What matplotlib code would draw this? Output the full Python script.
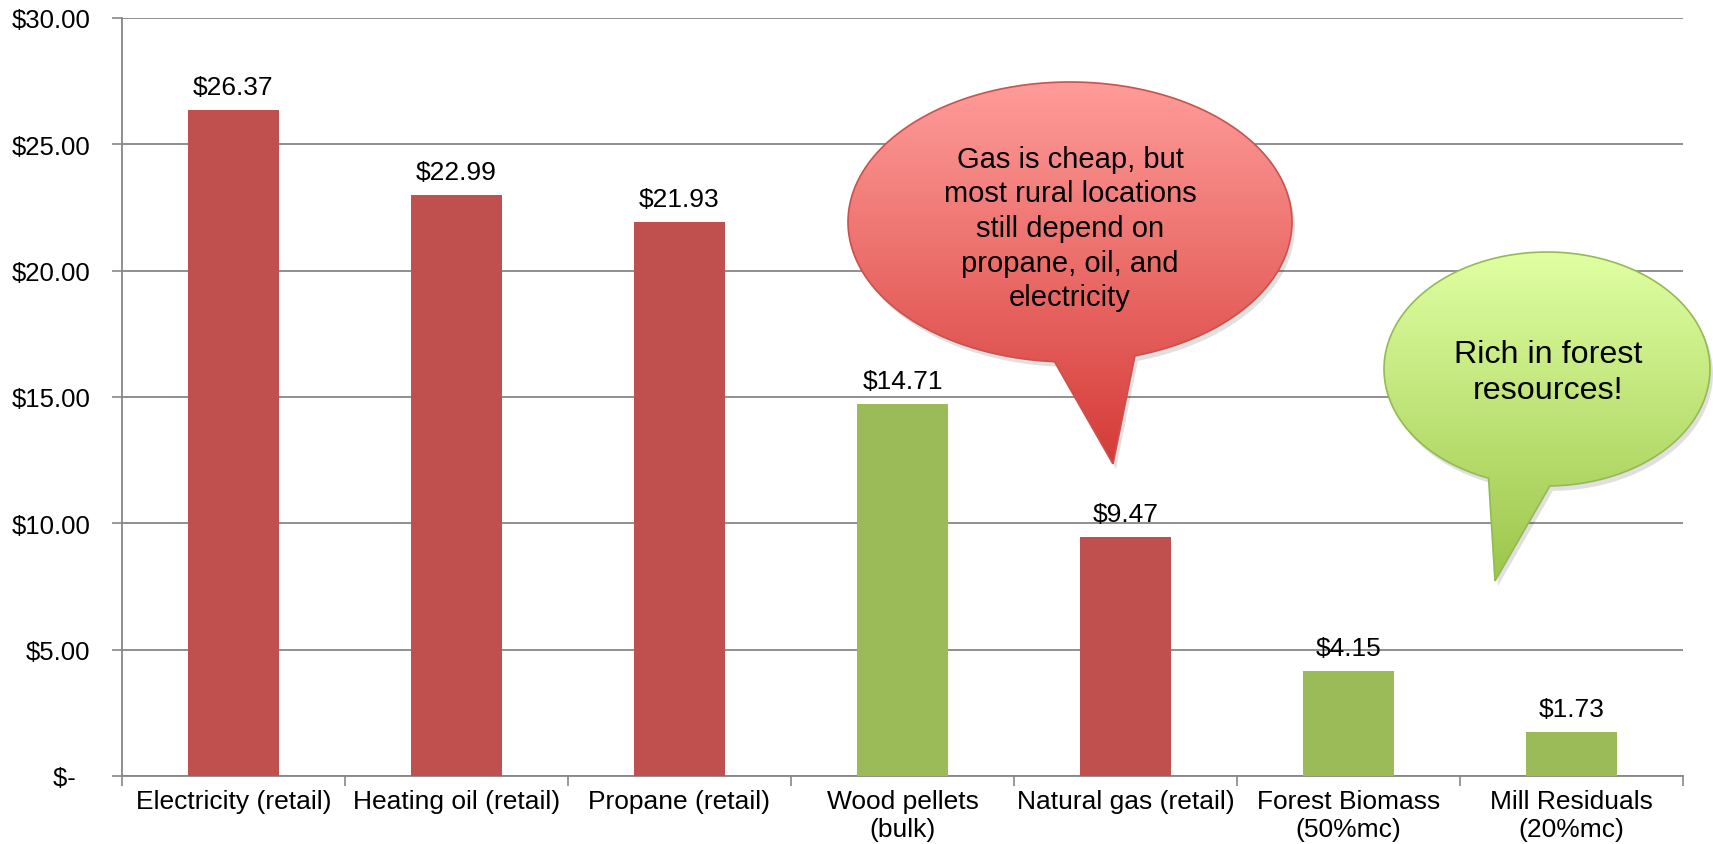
import numpy as np
import matplotlib
matplotlib.use('Agg')
import matplotlib.pyplot as plt
from matplotlib.path import Path
from matplotlib.patches import PathPatch
from matplotlib.colors import LinearSegmentedColormap

plt.rcParams['font.family'] = ['Liberation Sans', 'DejaVu Sans']

# data
categories = ['Electricity (retail)', 'Heating oil (retail)', 'Propane (retail)',
              'Wood pellets\n(bulk)', 'Natural gas (retail)', 'Forest Biomass\n(50%mc)',
              'Mill Residuals\n(20%mc)']
costs = [26.37, 22.99, 21.93, 14.71, 9.47, 4.15, 1.73]
is_biomass = [False, False, False, True, False, True, True]
y_ticks = [0, 5, 10, 15, 20, 25, 30]

RED = '#C0504D'
GREEN = '#9BBB59'
GRID = '#878787'

W, H = 1713, 845
fig = plt.figure(figsize=(W / 100, H / 100), dpi=100)
ax = fig.add_axes([122 / W, 1 - 777 / H, (1683 - 122) / W, (777 - 19) / H])

x = np.arange(len(costs))
colors = [GREEN if b else RED for b in is_biomass]
bars = ax.bar(x, costs, width=0.405, color=colors, zorder=3)
ax.bar_label(bars, labels=['$%.2f' % v for v in costs], padding=8, fontsize=19)

ax.set_xlim(-0.5, len(costs) - 0.5)
ax.set_ylim(0, 30)
ax.set_yticks(y_ticks)
ax.set_yticklabels(['$-  ' if v == 0 else '$%.2f' % v for v in y_ticks], fontsize=18.5)
ax.set_xticks(x)
ax.set_xticklabels(categories, fontsize=19, linespacing=1.22)
ax.set_xticks(np.arange(len(costs) + 1) - 0.5, minor=True)
ax.tick_params(axis='x', which='major', length=0, pad=9.5)
ax.tick_params(axis='x', which='minor', length=7, width=1.2, color=GRID)
ax.tick_params(axis='y', length=7, width=1.2, color=GRID, pad=16)
ax.yaxis.grid(True, color=GRID, linewidth=1.3, zorder=0)
ax.set_axisbelow(True)
for s in ['top', 'right']:
    ax.spines[s].set_visible(False)
for s in ['left', 'bottom']:
    ax.spines[s].set_color(GRID)
    ax.spines[s].set_linewidth(1.3)

# overlay in pixel coordinates for the callouts
ov = fig.add_axes([0, 0, 1, 1], zorder=5)
ov.set_xlim(0, W)
ov.set_ylim(H, 0)
ov.axis('off')
ov.patch.set_alpha(0)


def bubble(cx, cy, a, b, t_left, t_right, tip, top_col, bot_col, edge):
    t = np.radians(np.linspace(t_left, t_right + 360, 200))
    pts = [tip] + list(zip(cx + a * np.cos(t), cy + b * np.sin(t))) + [tip]
    path = Path(pts)
    shadow = PathPatch(Path([(px + 3, py + 5) for px, py in pts]), facecolor='black',
                       edgecolor='none', alpha=0.12)
    ov.add_patch(shadow)
    patch = PathPatch(path, facecolor='none', edgecolor=edge, linewidth=1.2, zorder=3)
    ov.add_patch(patch)
    ys = [p[1] for p in pts]
    xs = [p[0] for p in pts]
    cmap = LinearSegmentedColormap.from_list('g', [top_col, bot_col])
    grad = np.linspace(0, 1, 256).reshape(-1, 1)
    im = ov.imshow(grad, cmap=cmap, aspect='auto', zorder=2,
                   extent=(min(xs), max(xs), max(ys), min(ys)))
    im.set_clip_path(patch)


bubble(1070, 223, 222, 140, 94, 73, (1113, 465), '#FF9C99', '#D53B37', '#C8524E')
ov.text(1070, 229, 'Gas is cheap, but\nmost rural locations\nstill depend on\npropane, oil, and\nelectricity',
        ha='center', va='center', fontsize=21, linespacing=1.3, zorder=4)

bubble(1547, 370, 163, 117, 111, 89, (1495, 582), '#E0FFA2', '#9CC64B', '#93BA55')
ov.text(1548, 373, 'Rich in forest\nresources!', ha='center', va='center',
        fontsize=23.2, linespacing=1.3, zorder=4)

ov.set_xlim(0, W)
ov.set_ylim(H, 0)

fig.savefig('out.png', dpi=100)
